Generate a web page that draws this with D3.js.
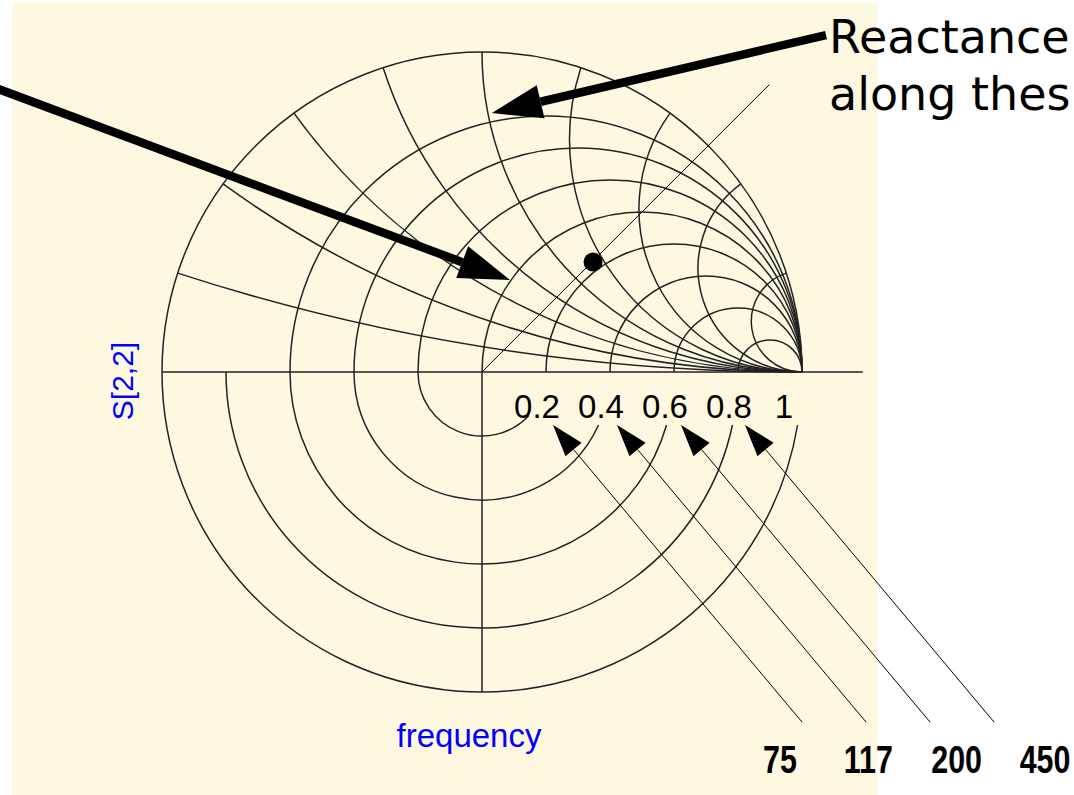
<!DOCTYPE html>
<html>
<head>
<meta charset="utf-8">
<script src="https://cdn.jsdelivr.net/npm/d3@7"></script>
<style>
  body { margin: 0; background: #fff; }
  svg { display: block; }
</style>
</head>
<body>
<div id="chart"></div>
<script>
// Smith chart grid (upper half) + polar magnitude rings (lower half)
const resistanceIntercepts = [-0.6, -0.4, -0.2, 0, 0.2, 0.4, 0.6, 0.8];
const reactanceAngles = [18, 36, 54, 72, 90, 108, 126, 144, 162];
const magnitudeTicks = [0.2, 0.4, 0.6, 0.8, 1];
const magnitudeLabels = ['0.2', '0.4', '0.6', '0.8', '1'];
const frequencies = [75, 117, 200, 450];
const markerPoint = [0.347, 0.344];   // S[2,2] (re, im)

const width = 1074, height = 795;
const cx = 482, cy = 372, R = 320;

const x = d3.scaleLinear().domain([-1, 1]).range([cx - R, cx + R]);
const y = d3.scaleLinear().domain([-1, 1]).range([cy + R, cy - R]);
const rpx = v => x(v) - x(0);

const svg = d3.select('#chart')
    .append('svg')
    .attr('width', width)
    .attr('height', height);

svg.append('rect')
    .attr('x', 12).attr('y', 3)
    .attr('width', 865).attr('height', height - 3)
    .attr('fill', '#fff8e1');

const grid = svg.append('g')
    .attr('fill', 'none')
    .attr('stroke', '#222')
    .attr('stroke-width', 1.5);

// outer circle, upper half
grid.append('path')
    .attr('d', `M${x(-1)},${y(0)}A${rpx(1)},${rpx(1)} 0 0 1 ${x(1)},${y(0)}`);

// constant resistance circles
grid.selectAll('.res')
    .data(resistanceIntercepts)
    .join('path')
    .attr('class', 'res')
    .attr('d', a => {
        const rr = rpx((1 - a) / 2);
        return `M${x(a)},${y(0)}A${rr},${rr} 0 0 1 ${x(1)},${y(0)}`;
    });

// constant reactance arcs
grid.selectAll('.reac')
    .data(reactanceAngles)
    .join('path')
    .attr('class', 'reac')
    .attr('d', deg => {
        const t = deg * Math.PI / 180;
        const rr = rpx(Math.tan(t / 2));
        return `M${x(1)},${y(0)}A${rr},${rr} 0 0 1 ${x(Math.cos(t))},${y(Math.sin(t))}`;
    });

// magnitude rings in the lower half, stopping short of the labels
grid.selectAll('.mag')
    .data(magnitudeTicks)
    .join('path')
    .attr('class', 'mag')
    .attr('d', m => {
        const rr = rpx(m);
        const dy = Math.min(53, 0.68 * rr);
        const ex = x(0) + Math.sqrt(rr * rr - dy * dy);
        return `M${x(-m)},${y(0)}A${rr},${rr} 0 0 0 ${ex},${y(0) + dy}`;
    });

// axes
grid.append('line')
    .attr('x1', x(-1)).attr('y1', y(0))
    .attr('x2', x(1.19)).attr('y2', y(0));
grid.append('line')
    .attr('x1', x(0)).attr('y1', y(0))
    .attr('x2', x(0)).attr('y2', y(-1));

// 45 degree radial
const diag = 1.27 * Math.SQRT1_2;
svg.append('line')
    .attr('x1', x(0)).attr('y1', y(0))
    .attr('x2', x(diag)).attr('y2', y(diag))
    .attr('stroke', '#000')
    .attr('stroke-width', 1);

// data point
svg.append('circle')
    .attr('cx', x(markerPoint[0]))
    .attr('cy', y(markerPoint[1]))
    .attr('r', 9.5)
    .attr('fill', '#000');

// magnitude labels
svg.selectAll('.mag-label')
    .data(magnitudeTicks)
    .join('text')
    .attr('class', 'mag-label')
    .attr('x', m => x(m) - (m === 1 ? 18 : 9))
    .attr('y', y(0) + 46)
    .attr('text-anchor', 'middle')
    .attr('font-family', '"Liberation Sans", Arial, sans-serif')
    .attr('font-size', 33)
    .attr('fill', '#000')
    .text((m, i) => magnitudeLabels[i]);

function arrow(g, x1, y1, x2, y2, len, half, sw) {
    const ang = Math.atan2(y2 - y1, x2 - x1);
    const bx = x2 - len * Math.cos(ang), by = y2 - len * Math.sin(ang);
    const px = -Math.sin(ang) * half, py = Math.cos(ang) * half;
    g.append('line')
        .attr('x1', x1).attr('y1', y1)
        .attr('x2', bx).attr('y2', by)
        .attr('stroke', '#000')
        .attr('stroke-width', sw);
    g.append('path')
        .attr('d', `M${x2},${y2}L${bx + px},${by + py}L${bx - px},${by - py}Z`)
        .attr('fill', '#000');
}

// frequency callouts
const ann = svg.append('g');
const fx = d3.scalePoint().domain(frequencies).range([780, 1045]);
frequencies.forEach((f, i) => {
    const tx = x(magnitudeTicks[i]) + 7, ty = y(0) + 53;
    arrow(ann, tx + 249, ty + 297, tx, ty, 32, 10.5, 1);
});

// condensed bold digits: Liberation Sans Bold squeezed horizontally
svg.selectAll('.freq')
    .data(frequencies)
    .join('text')
    .attr('class', 'freq')
    .attr('transform', d => `translate(${fx(d)},773) scale(0.78,1)`)
    .attr('text-anchor', 'middle')
    .attr('font-family', '"Liberation Sans", Arial, sans-serif')
    .attr('font-weight', 'bold')
    .attr('font-size', 39)
    .attr('fill', '#000')
    .text(d => d);

// big annotation arrows
arrow(ann, x(-1.54), y(0.895), x(0.0875), y(0.2875), 51, 17, 8.5);
arrow(ann, x(1.075), y(1.053), x(0.031), y(0.809), 50, 17, 8.5);

const note = svg.append('text')
    .attr('font-family', '"DejaVu Sans", Verdana, sans-serif')
    .attr('font-size', 46)
    .attr('fill', '#000');
note.append('tspan').attr('x', 829).attr('y', 53).text('Reactance');
note.append('tspan').attr('x', 829).attr('y', 110).text('along thes');

// axis titles
svg.append('text')
    .attr('transform', 'translate(133,381) rotate(-90)')
    .attr('text-anchor', 'middle')
    .attr('font-family', '"Liberation Sans", Arial, sans-serif')
    .attr('font-size', 30)
    .attr('fill', '#0000ff')
    .text('S[2,2]');

svg.append('text')
    .attr('x', 469)
    .attr('y', 747)
    .attr('text-anchor', 'middle')
    .attr('font-family', '"Liberation Sans", Arial, sans-serif')
    .attr('font-size', 33)
    .attr('fill', '#0000ff')
    .text('frequency');
</script>
</body>
</html>
